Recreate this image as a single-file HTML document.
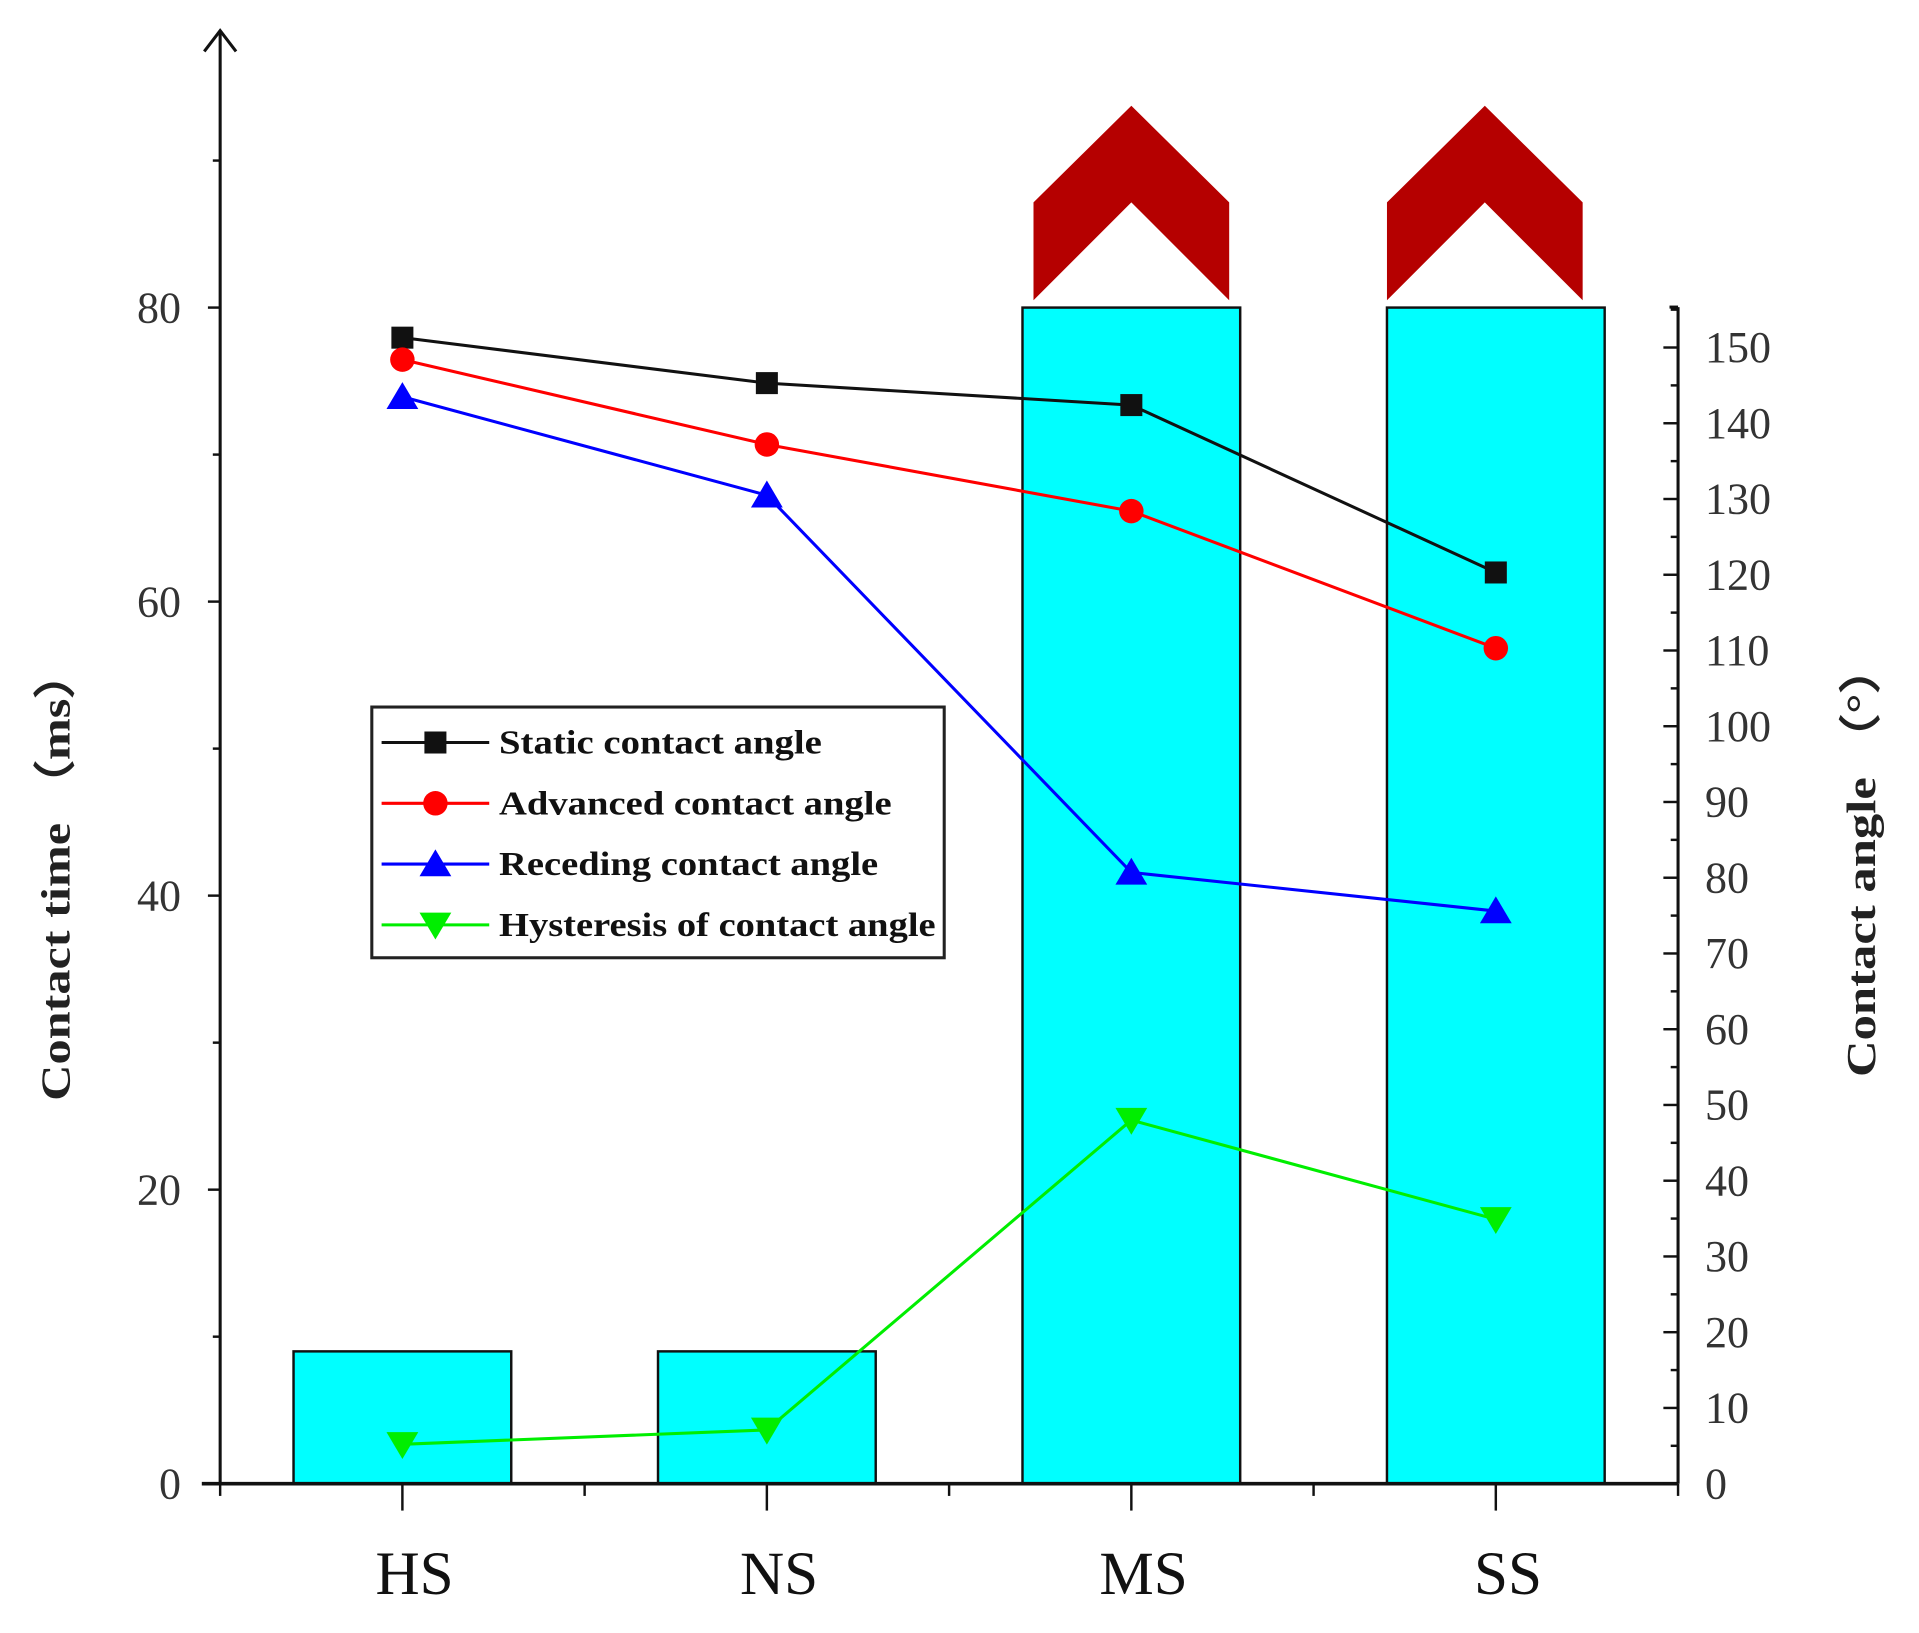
<!DOCTYPE html>
<html><head><meta charset="utf-8"><style>
html,body{margin:0;padding:0;background:#fff;}
svg{display:block;}
text{font-family:"Liberation Serif",serif;}
</style></head><body>
<svg id="chart" width="1919" height="1633" viewBox="0 0 1569 1335" xmlns="http://www.w3.org/2000/svg">
<g id="bars"></g>
<g id="chevrons"></g>
<g id="axes"></g>
<g id="lines"></g>
<g id="legend"></g>
<text transform="translate(57,715) rotate(-90)" text-anchor="middle" font-size="34" font-weight="bold" fill="#222" textLength="370" lengthAdjust="spacingAndGlyphs">Contact time （ms）</text>
<text transform="translate(1533,703) rotate(-90)" text-anchor="middle" font-size="34" font-weight="bold" fill="#222" textLength="355" lengthAdjust="spacingAndGlyphs">Contact angle （°）</text>
</svg>
<script>
const categories = ['HS','NS','MS','SS'];
const contactTime = [9, 9, 80, 80];
const brokenBars = [false, false, true, true];
const staticAngle = [151.3, 145.3, 142.4, 120.3];
const advancedAngle = [148.4, 137.2, 128.4, 110.3];
const recedingAngle = [143.5, 130.5, 80.7, 75.6];
const hysteresisAngle = [5.2, 7.1, 48, 34.9];
const leftTicks = [0, 20, 40, 60, 80];
const rightTicks = [0,10,20,30,40,50,60,70,80,90,100,110,120,130,140,150];

const NS='http://www.w3.org/2000/svg';
function mk(tag, attrs, parent){const e=document.createElementNS(NS,tag);for(const k in attrs)e.setAttribute(k,attrs[k]);parent.appendChild(e);return e;}
const X0=180, XR=1372, Y0=1213;
const xPos = i => 329 + i*298;
const yL = v => Y0 - v*12.02;
const yR = v => Y0 - v*6.193;

const bars=document.getElementById('bars');
categories.forEach((c,i)=>{
  const top=yL(contactTime[i]);
  const r=mk('rect',{x:xPos(i)-89,y:top,width:178,height:Y0-top,fill:'#00ffff',stroke:'#111','stroke-width':2},bars);
  
  
  if(brokenBars[i]){
    const cx=xPos(i)-(i===3?9:0);
    const p=mk('polygon',{points:`${cx-80},${top-6} ${cx-80},${top-86} ${cx},${top-165} ${cx+80},${top-86} ${cx+80},${top-6} ${cx},${top-86}`,fill:'#b50000'},document.getElementById('chevrons'));
    
    
  }
});

const ax=document.getElementById('axes');
mk('line',{x1:X0,y1:Y0,x2:X0,y2:25,stroke:'#111','stroke-width':2.5},ax);
mk('polyline',{points:`${X0-13},42 ${X0},25 ${X0+13},42`,fill:'none',stroke:'#111','stroke-width':2.5},ax);
mk('line',{x1:165,y1:Y0,x2:XR,y2:Y0,stroke:'#111','stroke-width':3},ax);
mk('line',{x1:XR,y1:Y0,x2:XR,y2:251,stroke:'#111','stroke-width':2.5},ax);
mk('line',{x1:XR-7,y1:251,x2:XR,y2:251,stroke:'#111','stroke-width':2.5},ax);
leftTicks.forEach(v=>{
  mk('line',{x1:X0-10,y1:yL(v),x2:X0,y2:yL(v),stroke:'#111','stroke-width':2},ax);
  const t=mk('text',{x:148,y:yL(v)+12,'text-anchor':'end','font-size':36,fill:'#333'},ax);t.textContent=v;
  
  
  if(v<80) mk('line',{x1:X0-6,y1:yL(v+10),x2:X0,y2:yL(v+10),stroke:'#111','stroke-width':2},ax);
});
mk('line',{x1:X0-6,y1:yL(90),x2:X0,y2:yL(90),stroke:'#111','stroke-width':2},ax);
rightTicks.forEach(v=>{
  mk('line',{x1:XR-12,y1:yR(v),x2:XR,y2:yR(v),stroke:'#111','stroke-width':2},ax);
  mk('line',{x1:XR-6,y1:yR(v+5),x2:XR,y2:yR(v+5),stroke:'#111','stroke-width':2},ax);
  const t=mk('text',{x:1394,y:yR(v)+12,'font-size':36,fill:'#333'},ax);t.textContent=v;
  
  
});
categories.forEach((c,i)=>{
  mk('line',{x1:xPos(i),y1:Y0,x2:xPos(i),y2:Y0+22,stroke:'#111','stroke-width':2},ax);
  mk('line',{x1:xPos(i)-149,y1:Y0,x2:xPos(i)-149,y2:Y0+10,stroke:'#111','stroke-width':2},ax);
  const t=mk('text',{x:xPos(i)+10,y:1303,'text-anchor':'middle','font-size':50,fill:'#111'},ax);t.textContent=c;
  
  
});
mk('line',{x1:XR,y1:Y0,x2:XR,y2:Y0+10,stroke:'#111','stroke-width':2},ax);

function marker(g,type,x,y,color){
  if(type==='square') return mk('rect',{x:x-9,y:y-9,width:18,height:18,fill:color},g);
  if(type==='circle') return mk('circle',{cx:x,cy:y,r:10,fill:color},g);
  if(type==='up') return mk('polygon',{points:`${x-13},${y+10} ${x+13},${y+10} ${x},${y-12}`,fill:color},g);
  return mk('polygon',{points:`${x-13},${y-10} ${x+13},${y-10} ${x},${y+12}`,fill:color},g);
}
const series=[
  {name:'Static contact angle',data:staticAngle,color:'#111',m:'square',len:264},
  {name:'Advanced contact angle',data:advancedAngle,color:'#ff0000',m:'circle',len:321},
  {name:'Receding contact angle',data:recedingAngle,color:'#0000ff',m:'up',len:310},
  {name:'Hysteresis of contact angle',data:hysteresisAngle,color:'#00ee00',m:'down',len:357}
];
const lg=document.getElementById('lines');
series.forEach(s=>{
  const g=mk('g',{},lg);
  
  
  const pl=mk('polyline',{points:s.data.map((v,i)=>xPos(i)+','+yR(v)).join(' '),fill:'none',stroke:s.color,'stroke-width':2.5},g);
  
  
  s.data.forEach((v,i)=>{const m=marker(g,s.m,xPos(i),yR(v),s.color);
    
    });
});
const leg=document.getElementById('legend');
mk('rect',{x:304,y:578,width:468,height:205,fill:'#fff',stroke:'#222','stroke-width':2.5},leg);
series.forEach((s,k)=>{
  const y=607+k*49.7;
  mk('line',{x1:312,y1:y,x2:400,y2:y,stroke:s.color,'stroke-width':2.5},leg);
  marker(leg,s.m,356,y,s.color);
  const t=mk('text',{x:408,y:y+9,'font-size':28,'font-weight':'bold',fill:'#111',textLength:s.len,lengthAdjust:'spacingAndGlyphs'},leg);
  t.textContent=s.name;
  
  
});
</script>
</body></html>
